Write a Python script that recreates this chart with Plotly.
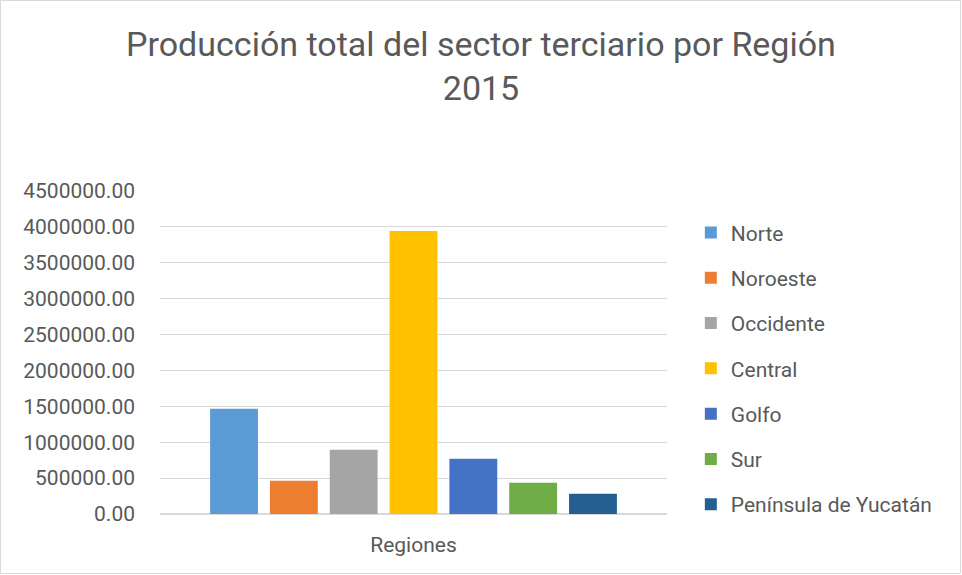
import plotly.graph_objects as go

# valores
regiones = ['Norte', 'Noroeste', 'Occidente', 'Central', 'Golfo', 'Sur', 'Península de Yucatán']
produccion = [1466000, 463000, 895000, 3943000, 770000, 436000, 283000]
colores = ['#5B9BD5', '#ED7D31', '#A5A5A5', '#FFC000', '#4472C4', '#70AD47', '#255E91']
categoria = ['Regiones']

W, H = 962, 575
ml, mr, mt, mb = 160, 295, 191, 61
pw, ph = W - ml - mr, H - mt - mb

fig = go.Figure()
for nombre, valor, color in zip(regiones, produccion, colores):
    fig.add_trace(go.Bar(
        x=categoria, y=[valor], name=nombre, legendgroup=nombre,
        marker=dict(color=color, line=dict(width=0)),
    ))

font = "Roboto, sans-serif"

fig.update_layout(
    width=W, height=H,
    margin=dict(l=ml, r=mr, t=mt, b=mb, autoexpand=False),
    paper_bgcolor='white', plot_bgcolor='white',
    font=dict(family=font, color='#595959'),
    title=dict(
        text='Producción total del sector terciario por Región<br>2015',
        x=0.5, xanchor='center', xref='container', y=0.903, yref='container', yanchor='top',
        font=dict(size=34, color='#595959', family=font),
    ),
    barmode='group', bargap=0.174, bargroupgap=0.2,
    showlegend=True,
    legend=dict(
        x=1.047, xanchor='left', y=0.934, yanchor='top',
        font=dict(size=21, color='#595959'),
        tracegroupgap=15, itemwidth=30,
    ),
    xaxis=dict(
        showgrid=False, showline=True, linecolor='#d9d9d9', linewidth=1,
        tickfont=dict(size=21, color='#595959'), ticks='', ticklabelstandoff=12,
    ),
    yaxis=dict(
        range=[0, 4500000], dtick=500000, tickformat='.2f',
        showgrid=True, gridcolor='#d9d9d9', gridwidth=1,
        zeroline=True, zerolinecolor='#d9d9d9',
        tickfont=dict(size=21, color='#595959'), ticks='', ticklabelstandoff=24,
    ),
    shapes=[dict(
        type='rect', xref='paper', yref='paper',
        x0=-ml / pw + 0.5 / pw, x1=(W - ml - 1.5) / pw,
        y0=-mb / ph + 1.5 / ph, y1=(H - mb - 0.5) / ph,
        line=dict(color='#d9d9d9', width=1), layer='below',
    )],
)

fig.write_html("out.html", config={'displayModeBar': False},
               post_script="document.body.style.margin='0';")
